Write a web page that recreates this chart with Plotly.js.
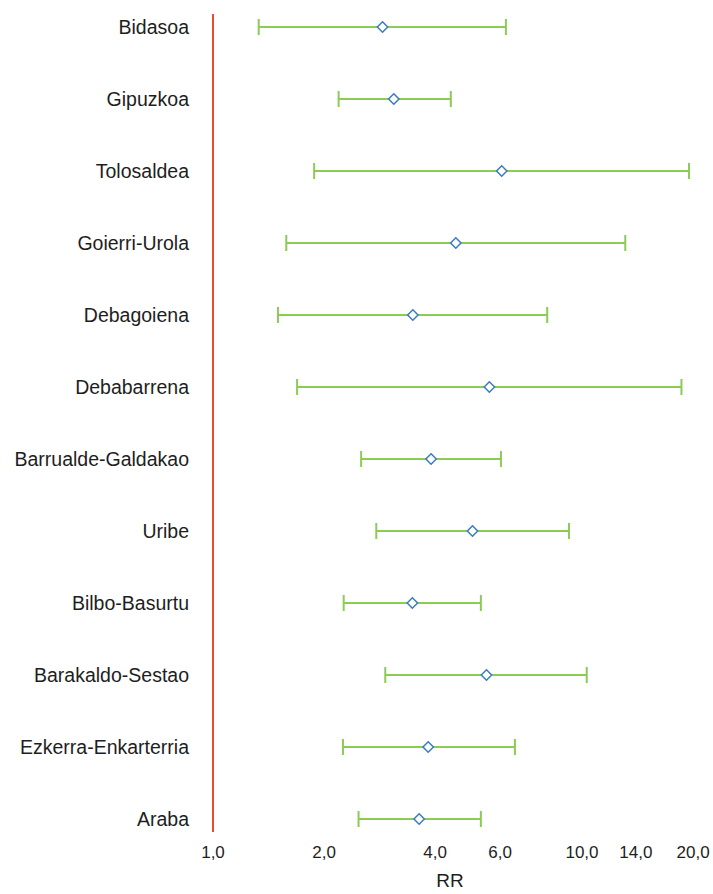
<!DOCTYPE html>
<html>
<head>
<meta charset="utf-8">
<script src="https://cdn.plot.ly/plotly-3.0.1.min.js"></script>
<style>html,body{margin:0;padding:0;background:#fff;}#chart{width:713px;height:894px;}</style>
</head>
<body>
<div id="chart"></div>
<script>
var regions = ["Bidasoa","Gipuzkoa","Tolosaldea","Goierri-Urola","Debagoiena","Debabarrena","Barrualde-Galdakao","Uribe","Bilbo-Basurtu","Barakaldo-Sestao","Ezkerra-Enkarterria","Araba"];
var rr    = [2.88, 3.09, 6.06, 4.55, 3.48, 5.61, 3.90, 5.05, 3.47, 5.51, 3.83, 3.62];
var lower = [1.33, 2.19, 1.88, 1.58, 1.50, 1.69, 2.52, 2.77, 2.26, 2.93, 2.25, 2.48];
var upper = [6.22, 4.41, 19.5, 13.1, 8.05, 18.6, 6.03, 9.22, 5.32, 10.3, 6.58, 5.32];
var tickVals = [1, 2, 4, 6, 10, 14, 20];
var tickText = ["1,0", "2,0", "4,0", "6,0", "10,0", "14,0", "20,0"];

var errPlus = rr.map(function(v, i){ return upper[i] - v; });
var errMinus = rr.map(function(v, i){ return v - lower[i]; });

var trace = {
  type: "scatter",
  mode: "markers",
  x: rr,
  y: regions,
  cliponaxis: false,
  marker: {symbol: "diamond", size: 8, color: "#ffffff", line: {color: "#3a7cc0", width: 1.5}},
  error_x: {type: "data", symmetric: false, array: errPlus, arrayminus: errMinus,
            color: "#8dcb55", thickness: 2, width: 8},
  hoverinfo: "x+y"
};

var n = regions.length;
var decadePx = 369;
var layout = {
  width: 713, height: 894,
  margin: {l: 200, r: 13, t: 14, b: 62},
  paper_bgcolor: "#ffffff", plot_bgcolor: "#ffffff",
  showlegend: false,
  font: {family: "Liberation Sans, Arial, sans-serif", color: "#1e1e1e"},
  xaxis: {
    type: "log",
    range: [-13 / decadePx, 487 / decadePx],
    tickvals: tickVals, ticktext: tickText,
    showgrid: false, zeroline: false, showline: false,
    ticks: "", ticklabelstandoff: 8,
    tickfont: {size: 17, color: "#1e1e1e"},
    title: {text: "RR", font: {size: 19, color: "#1e1e1e"}, standoff: 12}
  },
  yaxis: {
    type: "category",
    categoryorder: "array", categoryarray: regions.slice().reverse(),
    range: [-0.18, n - 1 + 0.18],
    showgrid: false, zeroline: false, showline: false,
    ticks: "", ticklabelstandoff: 10,
    tickfont: {size: 19.5, color: "#1e1e1e"}
  },
  shapes: [{type: "line", xref: "x", yref: "paper", x0: 1, x1: 1, y0: 0, y1: 1,
            layer: "above", line: {color: "#ee4a2c", width: 2}}]
};

Plotly.newPlot("chart", [trace], layout, {displayModeBar: false, staticPlot: true});
</script>
</body>
</html>
